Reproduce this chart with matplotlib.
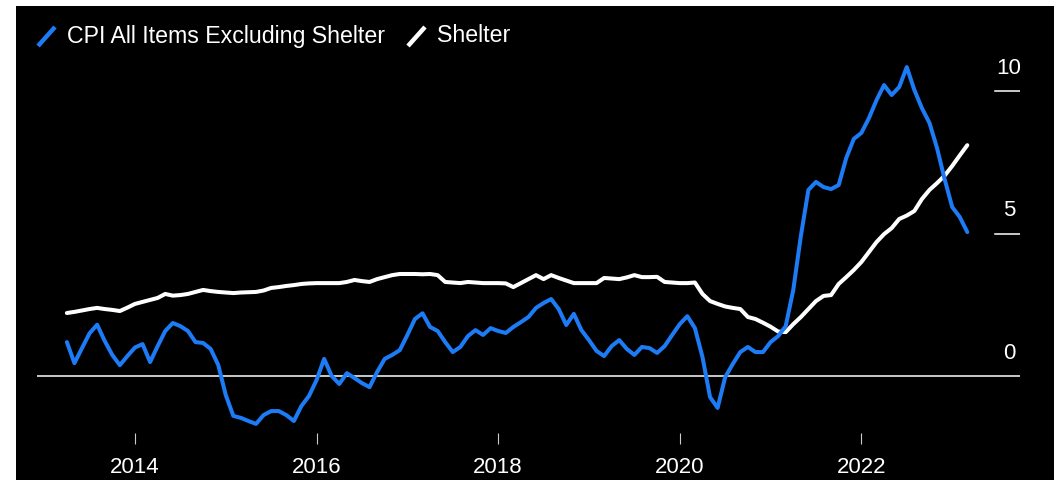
import matplotlib
matplotlib.use("Agg")
import matplotlib.pyplot as plt
import matplotlib.transforms as mtransforms
from matplotlib.patches import Rectangle
from matplotlib.lines import Line2D
import numpy as np
import pandas as pd

# Year-over-year % change, monthly, Apr 2013 .. Mar 2023
start_month = "2013-04"

cpi_ex_shelter = [
    1.19, 0.45, 0.98, 1.50, 1.80, 1.23, 0.74, 0.38, 0.70, 1.00,
    1.12, 0.49, 1.05, 1.58, 1.86, 1.75, 1.58, 1.19, 1.16, 0.95,
    0.39, -0.67, -1.40, -1.47, -1.58, -1.68, -1.37, -1.23, -1.23, -1.37,
    -1.58, -1.05, -0.70, -0.14, 0.60, 0.00, -0.28, 0.10, -0.07, -0.25,
    -0.39, 0.14, 0.60, 0.74, 0.91, 1.44, 2.00, 2.20, 1.72, 1.58,
    1.19, 0.84, 1.02, 1.40, 1.61, 1.44, 1.68, 1.58, 1.51, 1.72,
    1.89, 2.07, 2.39, 2.56, 2.70, 2.35, 1.79, 2.18, 1.61, 1.26,
    0.88, 0.70, 1.05, 1.26, 0.95, 0.74, 1.02, 0.98, 0.81, 1.05,
    1.44, 1.82, 2.10, 1.68, 0.67, -0.74, -1.12, -0.04, 0.42, 0.84,
    1.02, 0.84, 0.84, 1.19, 1.40, 1.75, 3.02, 4.91, 6.53, 6.81,
    6.63, 6.56, 6.70, 7.65, 8.32, 8.53, 9.05, 9.68, 10.21, 9.86,
    10.14, 10.84, 10.04, 9.40, 8.88, 8.00, 6.91, 5.93, 5.58, 5.05,
]

shelter = [
    2.21, 2.25, 2.30, 2.35, 2.39, 2.35, 2.32, 2.28, 2.40, 2.53,
    2.60, 2.67, 2.74, 2.88, 2.82, 2.84, 2.88, 2.95, 3.02, 2.98,
    2.95, 2.93, 2.91, 2.93, 2.94, 2.95, 3.00, 3.09, 3.12, 3.16,
    3.19, 3.23, 3.25, 3.26, 3.26, 3.26, 3.26, 3.30, 3.37, 3.33,
    3.30, 3.40, 3.47, 3.54, 3.58, 3.58, 3.58, 3.57, 3.58, 3.54,
    3.30, 3.28, 3.26, 3.30, 3.28, 3.26, 3.26, 3.26, 3.25, 3.12,
    3.26, 3.40, 3.54, 3.40, 3.54, 3.44, 3.35, 3.26, 3.26, 3.26,
    3.26, 3.44, 3.42, 3.40, 3.46, 3.54, 3.47, 3.47, 3.48, 3.30,
    3.28, 3.26, 3.26, 3.28, 2.88, 2.63, 2.53, 2.44, 2.39, 2.35,
    2.07, 2.00, 1.87, 1.73, 1.56, 1.54, 1.82, 2.07, 2.35, 2.63,
    2.81, 2.84, 3.23, 3.47, 3.72, 4.00, 4.35, 4.70, 4.98, 5.19,
    5.51, 5.63, 5.79, 6.21, 6.53, 6.77, 7.03, 7.37, 7.74, 8.10,
]

series_names = ["CPI All Items Excluding Shelter", "Shelter"]
series_colors = ["#1C7BF5", "#FFFFFF"]

x_tick_years = [2014, 2016, 2018, 2020, 2022]
y_tick_values = [0, 5, 10]

dates = pd.date_range(start_month, periods=len(shelter), freq="MS")
t = dates.year + (dates.month - 1) / 12.0

W, H = 1057, 480
fig = plt.figure(figsize=(W / 100, H / 100), dpi=100, facecolor="white")
plt.rcParams["font.family"] = ["Liberation Sans", "DejaVu Sans"]

# black panel with a thin white frame on left/top
fig.patches.append(Rectangle((16 / W, 0), (1054 - 16) / W, (H - 6) / H,
                             transform=fig.transFigure, facecolor="black",
                             edgecolor="none", zorder=-10))

left, right, top, bottom = 37, 1020, 50, 433
ax = fig.add_axes([left / W, (H - bottom) / H, (right - left) / W, (bottom - top) / H])
ax.set_facecolor("none")
ax.set_zorder(1)

ax.plot(t, shelter, color=series_colors[1], lw=2.9, solid_joinstyle="round",
        solid_capstyle="round", zorder=3)
ax.plot(t, cpi_ex_shelter, color=series_colors[0], lw=2.9, solid_joinstyle="round",
        solid_capstyle="round", zorder=4)

ax.set_xlim(2012.921, 2023.747)
ax.set_ylim(-2.0, 11.44)

for s in ax.spines.values():
    s.set_visible(False)

# horizontal reference lines: full zero line, short ticks for others
blend = mtransforms.blended_transform_factory(fig.transFigure, ax.transData)
for v in y_tick_values:
    if v == 0:
        ax.axhline(v, color="white", lw=1.1, zorder=2)
    else:
        ax.axhline(v, xmin=(995 - left) / (right - left), xmax=1.0, color="white", lw=1.1, zorder=2)
    ax.annotate(str(v), xy=(1009 / W, v), xycoords=blend,
                xytext=(0, 16.5), textcoords="offset points", ha="center", va="center",
                color="white", fontsize=16)

ax.set_yticks([])
ax.set_xticks(x_tick_years)
ax.set_xticklabels([str(y) for y in x_tick_years])
ax.tick_params(axis="x", colors="#cccccc", length=8, width=0.8, direction="out",
               labelcolor="white", labelsize=16, pad=9)

# legend with slanted swatches
legend_items = [(38, 67), (408, 437)]
for (sx, tx), name, col in zip(legend_items, series_names, series_colors):
    fig.add_artist(Line2D([sx / W, (sx + 17) / W], [(H - 46) / H, (H - 27) / H],
                          transform=fig.transFigure, color=col, lw=3.2,
                          solid_capstyle="butt"))
    fig.text(tx / W, (H - 36) / H, name, color="white", fontsize=16.7,
             ha="left", va="center")

fig.savefig("out.png", dpi=100, facecolor=fig.get_facecolor())
